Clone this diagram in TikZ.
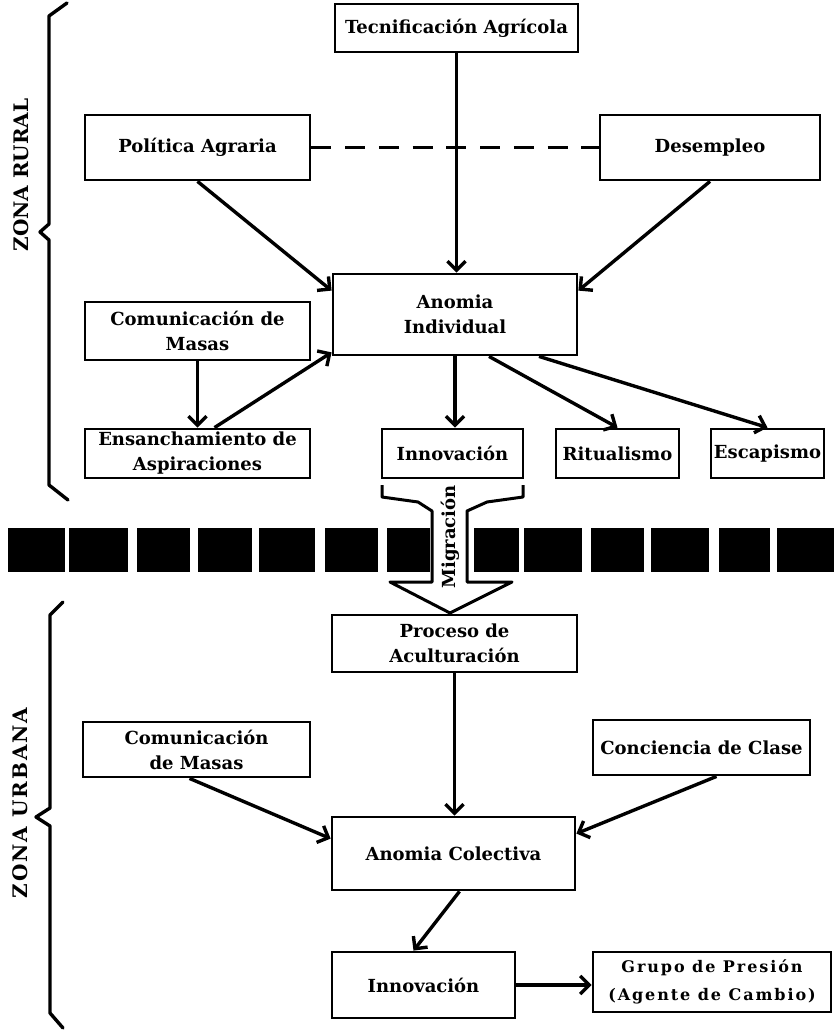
\documentclass[tikz,border=0pt]{standalone}
\usepackage{fontspec}
\setmainfont{DejaVu Serif}
\usetikzlibrary{arrows.meta}
\begin{document}
\begin{tikzpicture}[x=1pt,y=-1pt,
  box/.style={draw, line width=2.8pt, align=center, inner sep=0pt,
    font=\bfseries\fontsize{18}{25}\selectfont},
  sz/.style 2 args={minimum width=#1pt, minimum height=#2pt},
  arr/.style={line width=3.4pt, -{Straight Barb[length=9pt,width=18pt]}},
  brace/.style={line width=3.4pt, line join=round, line cap=round},
  zone/.style={rotate=90, font=\bfseries\fontsize{20}{20}\selectfont}]
\useasboundingbox (0,0) rectangle (834,1030);

% ---------- rural zone ----------
\node[box, sz={243}{48}] (tec) at (456.5,28) {Tecnificación Agrícola};
\node[box, sz={225}{65}] (pol) at (197.5,147.5) {Política Agraria};
\node[box, sz={220}{65}] (des) at (710,147.5) {Desempleo};
\node[box, sz={244}{81}] (ai) at (455,314.5) {Anomia\\Individual};
\node[box, sz={225}{58}] (cmr) at (197.5,331) {Comunicación de\\Masas};
\node[box, sz={225}{49}] (ens) at (197.5,453.5) {Ensanchamiento de\\Aspiraciones};
\node[box, sz={141}{49}] (inr) at (452.5,453.5) {Innovación};
\node[box, sz={123}{49}] (rit) at (617.5,453.5) {Ritualismo};
\node[box, sz={113}{49}] (esc) at (767.5,453.5) {Escapismo};

\draw[line width=3.4pt, dash pattern=on 20pt off 13.75pt] (pol.east) -- (des.west);
\draw[arr] (tec.south) -- (tec.south |- ai.north);
\draw[arr] (pol.south) -- ([yshift=-18pt]ai.north west);
\draw[arr] (des.south) -- ([yshift=-18pt]ai.north east);
\draw[arr] (cmr.south) -- (ens.north);
\draw[arr] ([xshift=17pt]ens.north) -- ([yshift=4pt]ai.south west);
\draw[arr] (ai.south) -- (ai.south |- inr.north);
\draw[arr] ([xshift=34pt]ai.south) -- (rit.north);
\draw[arr] ([xshift=84pt]ai.south) -- (esc.north);

% ---------- separator band ----------
\foreach \a/\b in {8/65,69/128,137/190,198/252,259/315,325/378,387/430,474/519,524/582,591/644,651/709,719/770,777/834}
  \fill[black] (\a,528) rectangle (\b,572);

% ---------- migration arrow ----------
\draw[line width=3pt, line join=round, fill=white]
  (382,485) -- (382,497) -- (418,502) -- (432,511) -- (432,582) -- (390,582)
  -- (450,613) -- (512,582) -- (467,582) -- (467,511) -- (487,502) -- (523,497) -- (523,485);
\node[rotate=90, font=\bfseries\fontsize{18}{18}\selectfont] (mig) at (450,537) {Migración};

% ---------- urban zone ----------
\node[box, sz={245}{57}] (pro) at (454.5,643.5) {Proceso de\\Aculturación};
\node[box, sz={227}{55}] (cmu) at (196.5,749.5) {Comunicación\\de Masas};
\node[box, sz={217}{55}] (con) at (701.5,747.5) {Conciencia de Clase};
\node[box, sz={243}{73}] (ac) at (453.5,853.5) {Anomia Colectiva};
\node[box, sz={183}{66}] (inu) at (423.5,985) {Innovación};
\node[box, sz={238}{60}, font=\bfseries\fontsize{16}{28}\selectfont\addfontfeature{LetterSpace=12}] (gru) at (712,982) {Grupo de Presión\\(Agente de Cambio)};

\draw[arr] (pro.south) -- (pro.south |- ac.north);
\draw[arr] ([xshift=-7pt]cmu.south) -- ([yshift=-23pt]ac.north west);
\draw[arr] ([xshift=15pt]con.south) -- ([yshift=-18pt]ac.north east);
\draw[arr] ([xshift=6pt]ac.south) -- ([xshift=-10pt]inu.north);
\draw[arr] (inu.east) -- (inu.east -| gru.west);

% ---------- braces and zone labels ----------
\draw[brace] (67,3) -- (49,16) -- (49,224) -- (40,232) -- (49,240) -- (49,485) -- (68,500);
\draw[brace] (63,602) -- (50,615) -- (50,808) -- (36,817) -- (50,826) -- (50,1013) -- (63,1028);
\node[zone] (zr) at (21,175) {ZONA RURAL};
\node[zone, font=\bfseries\fontsize{20}{20}\selectfont\addfontfeature{LetterSpace=10}] (zu) at (20,803) {ZONA URBANA};
\end{tikzpicture}
\end{document}
